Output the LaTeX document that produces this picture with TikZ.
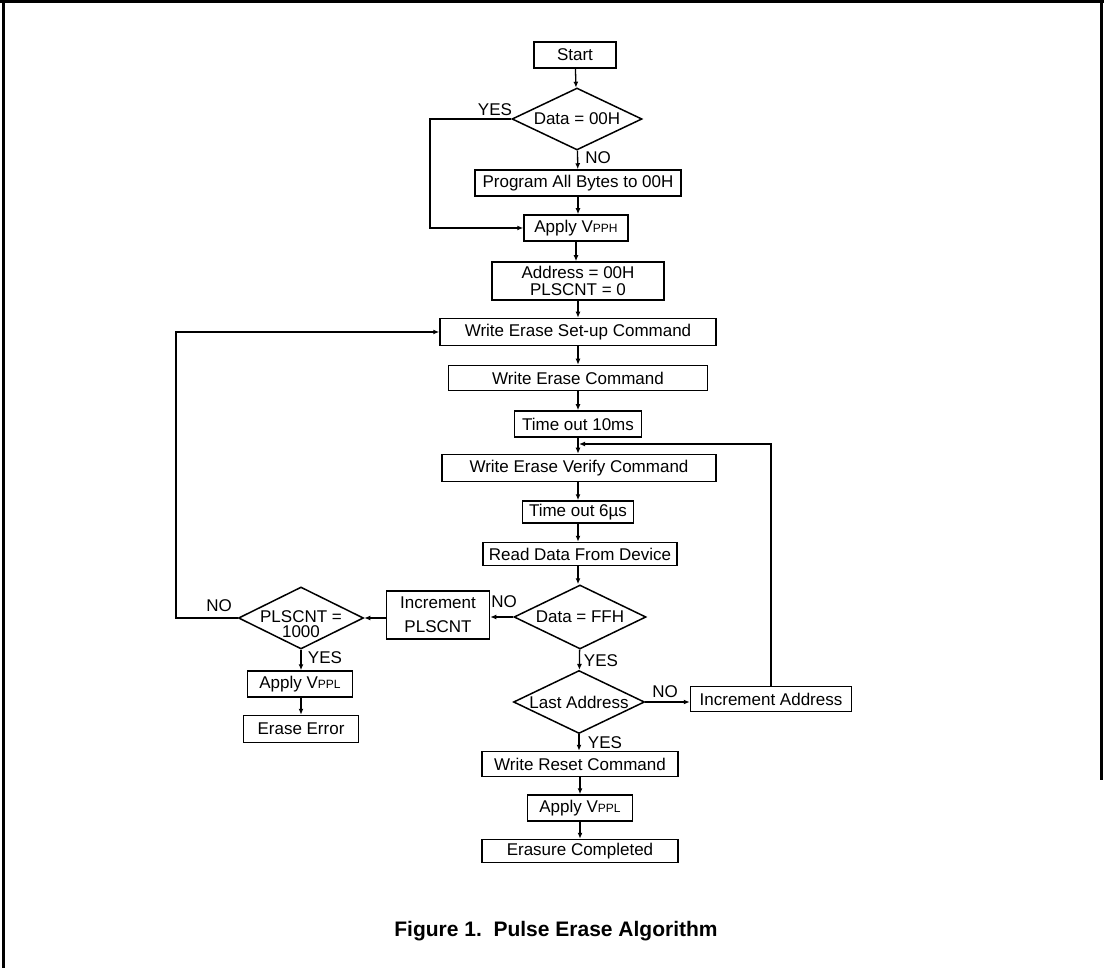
\documentclass[tikz,border=0pt]{standalone}
\usepackage{fontspec}
\setmainfont{Liberation Sans}
\usetikzlibrary{shapes.geometric,arrows.meta}
\newcommand{\sbs}[1]{{\fontsize{12}{12}\selectfont #1}}
\begin{document}
\begin{tikzpicture}[x=1pt,y=-1pt,
  font=\fontsize{17}{20}\selectfont,
  box/.style={draw,line width=1.5pt,inner sep=0pt,align=center},
  dia/.style={draw,line width=1.5pt,shape=diamond,inner sep=0pt},
  conn/.style={line width=1.3pt,-{Latex[length=6pt,width=5pt]}},
  lbl/.style={inner sep=0pt},
  frame/.style={line width=3pt}]
\useasboundingbox (0,0) rectangle (1104,968);
% frame
\draw[frame] (0,1.5) -- (1104,1.5);
\draw[frame] (3.5,0) -- (3.5,968);
\draw[frame] (1101.5,0) -- (1101.5,780);
% nodes
\node[box,minimum width=82,minimum height=26] (start) at (575,55) {Start};
\node[dia,minimum width=130,minimum height=62] (d1) at (577,119) {};
\node[lbl] (d1t) at (d1) {Data = 00H};
\node[box,minimum width=206,minimum height=26] (prog) at (578,183) {Program All Bytes to 00H};
\node[box,minimum width=104,minimum height=26] (vpph) at (576,228) {Apply V\sbs{PPH}};
\node[box,minimum width=172,minimum height=38,font=\fontsize{17}{17}\selectfont] (addr) at (578,281) {Address = 00H\\PLSCNT = 0};
\node[box,minimum width=276,minimum height=27] (wesu) at (578,332) {Write Erase Set-up Command};
\node[box,minimum width=259,minimum height=25] (we) at (578,378) {Write Erase Command};
\node[box,minimum width=127,minimum height=26] (to10) at (578,424) {Time out 10ms};
\node[box,minimum width=274,minimum height=27] (wev) at (579,468) {Write Erase Verify Command};
\node[box,minimum width=111,minimum height=22] (to6) at (578,512) {Time out 6µs};
\node[box,minimum width=194,minimum height=23] (rd) at (580,554) {Read Data From Device};
\node[dia,minimum width=132,minimum height=64] (d2) at (580,617) {};
\node[lbl] (d2t) at (d2) {Data = FFH};
\node[box,minimum width=103,minimum height=48,font=\fontsize{17}{24}\selectfont] (incp) at (438,615) {Increment\\PLSCNT};
\node[dia,minimum width=125,minimum height=62] (d3) at (301,618) {};
\node[lbl,align=center,font=\fontsize{17}{15}\selectfont] (d3t) at (301,624) {PLSCNT =\\1000};
\node[box,minimum width=105,minimum height=26] (vppl1) at (300,684) {Apply V\sbs{PPL}};
\node[box,minimum width=115,minimum height=27] (err) at (301,729) {Erase Error};
\node[dia,minimum width=131,minimum height=63] (d4) at (579,702) {};
\node[lbl] (d4t) at (579,702) {Last Address};
\node[box,minimum width=161,minimum height=25] (inca) at (771,699) {Increment Address};
\node[box,minimum width=196,minimum height=25] (wrc) at (580,764) {Write Reset Command};
\node[box,minimum width=105,minimum height=26] (vppl2) at (580,808) {Apply V\sbs{PPL}};
\node[box,minimum width=196,minimum height=23] (done) at (580,851) {Erasure Completed};
\node[lbl,font=\fontsize{21}{24}\selectfont\bfseries] (cap) at (556,931) {Figure 1.\ \ Pulse Erase Algorithm};
% coordinates
\coordinate (yl) at (430,119);
\coordinate (nl) at (176,618);
\coordinate (lp) at (771,444);
\coordinate (m) at (579,444);
% connectors
\draw[conn] (start) -- (d1);
\draw[conn] (d1) -- (prog);
\draw[conn] (prog) -- (vpph.north -| prog);
\draw[conn] (d1.west) -- (yl) |- (vpph.west);
\draw[conn] (vpph) -- (addr.north -| vpph);
\draw[conn] (addr) -- (wesu);
\draw[conn] (wesu) -- (we);
\draw[conn] (we) -- (to10);
\draw[conn] (to10) -- (wev.north -| to10);
\draw[conn] (wev.south -| to6) -- (to6);
\draw[conn] (to6) -- (rd.north -| to6);
\draw[conn] (rd.south -| to6) -- (d2.north -| to6);
\draw[conn] (d2.west) -- (incp.east |- d2.west);
\draw[conn] (incp.west |- d3.east) -- (d3.east);
\draw[conn] (d3.west) -- (nl) |- (wesu.west);
\draw[conn] (d3) -- (vppl1.north -| d3);
\draw[conn] (vppl1.south -| err) -- (err);
\draw[conn] (d2) -- (d4);
\draw[conn] (d4.east) -- (inca.west |- d4.east);
\draw[conn] (inca.north -| lp) -- (lp) -- (m);
\draw[conn] (d4) -- (wrc.north -| d4);
\draw[conn] (wrc.south -| vppl2) -- (vppl2);
\draw[conn] (vppl2) -- (done);
% labels
\node[lbl] at (495,110) {YES};
\node[lbl] at (598,158) {NO};
\node[lbl] at (504,602) {NO};
\node[lbl] at (219,606) {NO};
\node[lbl] at (325,658) {YES};
\node[lbl] at (601,661) {YES};
\node[lbl] at (665,692) {NO};
\node[lbl] at (605,743) {YES};
\end{tikzpicture}
\end{document}
